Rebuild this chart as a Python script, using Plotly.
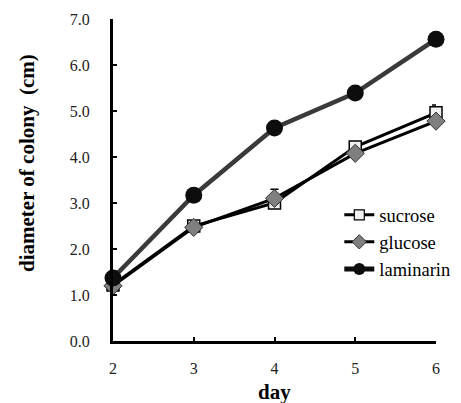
import plotly.graph_objects as go

days = [2, 3, 4, 5, 6]
sucrose = [1.22, 2.50, 3.00, 4.22, 4.96]
sucrose_err = [0.05, 0.05, 0.08, 0.08, 0.17]
glucose = [1.20, 2.47, 3.10, 4.08, 4.78]
glucose_err = [0.05, 0.05, 0.20, 0.05, 0.05]
laminarin = [1.37, 3.17, 4.63, 5.39, 6.56]
y_ticks = [0, 1, 2, 3, 4, 5, 6, 7]
y_labels = ["0.0", "1.0", "2.0", "3.0", "4.0", "5.0", "6.0", "7.0"]

font = "Times New Roman, Liberation Serif, DejaVu Serif, serif"
fig = go.Figure()

styles = {
    "sucrose": dict(line=dict(color="black", width=3),
                    marker=dict(symbol="square", size=12, color="#f2f2f2", line=dict(color="black", width=1.5)),
                    lmarker=dict(symbol="square", size=10, color="#f2f2f2", line=dict(color="black", width=1.2)),
                    lline=dict(color="black", width=3)),
    "glucose": dict(line=dict(color="black", width=3),
                    marker=dict(symbol="diamond", size=14, color="#7f7f7f", line=dict(color="#333333", width=1)),
                    lmarker=dict(symbol="diamond", size=11, color="#7f7f7f", line=dict(color="#333333", width=1)),
                    lline=dict(color="black", width=3)),
    "laminarin": dict(line=dict(color="#3a3a3a", width=4.5),
                      marker=dict(symbol="circle", size=17, color="#0d0d0d", line=dict(color="#0d0d0d", width=0)),
                      lmarker=dict(symbol="circle", size=12, color="#0d0d0d", line=dict(color="#0d0d0d", width=0)),
                      lline=dict(color="#0d0d0d", width=5)),
}
series = {"sucrose": (sucrose, sucrose_err), "glucose": (glucose, glucose_err), "laminarin": (laminarin, None)}

for name, (vals, err) in series.items():
    st = styles[name]
    kw = {}
    if err is not None:
        kw["error_y"] = dict(type="data", array=err, symmetric=False, arrayminus=[0] * len(err),
                             color="black", thickness=1.5, width=4)
    fig.add_trace(go.Scatter(x=days, y=vals, name=name, mode="lines+markers",
                             line=st["line"], marker=st["marker"], cliponaxis=False,
                             showlegend=False, **kw))
for name in series:
    st = styles[name]
    fig.add_trace(go.Scatter(x=[None], y=[None], name=name, mode="lines+markers",
                             line=st["lline"], marker=st["lmarker"], showlegend=True))

fig.update_layout(
    width=461, height=403,
    margin=dict(l=113, r=25, t=19, b=62, autoexpand=False),
    paper_bgcolor="white", plot_bgcolor="white",
    font=dict(family=font, size=16, color="#222"),
    legend=dict(xref="container", yref="container", x=0.736, y=0.513,
                xanchor="left", yanchor="top",
                font=dict(family=font, size=18.5, color="black"),
                bgcolor="rgba(0,0,0,0)", tracegroupgap=0, itemwidth=30),
    xaxis=dict(range=[2, 6], tickvals=days, ticks="inside", ticklen=4, tickwidth=2,
               tickcolor="black", showline=True, linecolor="black", linewidth=3,
               showgrid=False, zeroline=False, ticklabelstandoff=11, automargin=False),
    yaxis=dict(range=[0, 7], tickvals=y_ticks, ticktext=y_labels, ticks="inside", ticklen=4,
               tickwidth=2, tickcolor="black", showline=True, linecolor="black", linewidth=3,
               showgrid=False, zeroline=False, ticklabelstandoff=17, automargin=False),
    annotations=[
        dict(text="<b>day</b>", xref="paper", yref="paper", x=0.5, y=-0.158,
             xanchor="center", yanchor="middle", showarrow=False,
             font=dict(family=font, size=21, color="black")),
        dict(text="<b>diameter of colony  (cm)</b>", xref="paper", yref="paper",
             x=-0.266, y=0.553, xanchor="center", yanchor="middle", textangle=-90,
             showarrow=False, font=dict(family=font, size=21, color="black")),
    ],
)
fig.write_html("out.html", post_script="document.body.style.margin='0';",
               config={"displayModeBar": False})
